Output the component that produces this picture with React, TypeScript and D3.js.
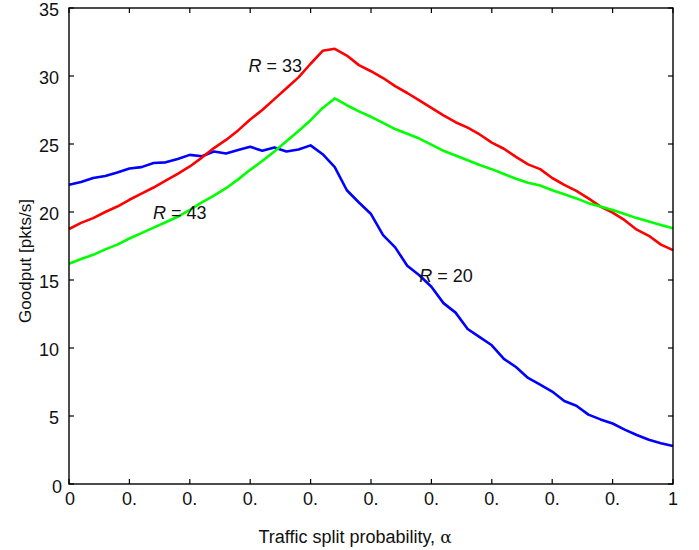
import React, { useRef, useEffect } from 'react';
import * as d3 from 'd3';

// traffic split probability (x grid, step 0.02)
const alpha = [
  0, 0.02, 0.04, 0.06, 0.08, 0.1, 0.12, 0.14, 0.16, 0.18, 0.2, 0.22, 0.24, 0.26, 0.28, 0.3, 0.32,
  0.34, 0.36, 0.38, 0.4, 0.42, 0.44, 0.46, 0.48, 0.5, 0.52, 0.54, 0.56, 0.58, 0.6, 0.62, 0.64, 0.66,
  0.68, 0.7, 0.72, 0.74, 0.76, 0.78, 0.8, 0.82, 0.84, 0.86, 0.88, 0.9, 0.92, 0.94, 0.96, 0.98, 1,
];

// goodput [pkts/s]
const r20 = [
  22.0, 22.2, 22.5, 22.65, 22.9, 23.2, 23.3, 23.6, 23.65, 23.9, 24.2, 24.1, 24.45, 24.3, 24.55, 24.8,
  24.5, 24.75, 24.45, 24.6, 24.9, 24.25, 23.3, 21.6, 20.7, 19.85, 18.3, 17.4, 16.05, 15.35, 14.5, 13.3,
  12.6, 11.4, 10.8, 10.2, 9.2, 8.6, 7.8, 7.3, 6.8, 6.1, 5.75, 5.1, 4.75, 4.45, 4.0, 3.6, 3.25, 3.0, 2.8,
];
const r33 = [
  18.75, 19.2, 19.55, 20.0, 20.4, 20.9, 21.35, 21.8, 22.3, 22.8, 23.35, 24.0, 24.7, 25.3, 26.0, 26.8,
  27.5, 28.3, 29.1, 29.9, 30.9, 31.85, 32.0, 31.5, 30.8, 30.35, 29.85, 29.25, 28.75, 28.2, 27.65, 27.1,
  26.6, 26.2, 25.7, 25.1, 24.65, 24.05, 23.5, 23.15, 22.5, 22.0, 21.55, 21.0, 20.4, 19.95, 19.4, 18.7,
  18.25, 17.6, 17.2,
];
const r43 = [
  16.2, 16.55, 16.85, 17.25, 17.6, 18.05, 18.45, 18.85, 19.25, 19.65, 20.15, 20.7, 21.2, 21.75, 22.4,
  23.1, 23.75, 24.45, 25.2, 25.95, 26.75, 27.65, 28.35, 27.85, 27.4, 27.0, 26.55, 26.1, 25.75, 25.4,
  24.95, 24.5, 24.15, 23.8, 23.45, 23.15, 22.8, 22.45, 22.15, 21.95, 21.6, 21.3, 21.0, 20.65, 20.4,
  20.15, 19.85, 19.55, 19.3, 19.05, 18.8,
];

const xTicks = [0, 0.1, 0.2, 0.3, 0.4, 0.5, 0.6, 0.7, 0.8, 0.9, 1];
const xTickLabels = ['0', '0.', '0.', '0.', '0.', '0.', '0.', '0.', '0.', '0.', '1'];
const yTicks = [0, 5, 10, 15, 20, 25, 30, 35];

const series = [
  { name: 'R = 20', values: r20, color: '#0000ff', label: { a: 0.58, v: 14.85 } },
  { name: 'R = 33', values: r33, color: '#ff0000', label: { a: 0.297, v: 30.3 } },
  { name: 'R = 43', values: r43, color: '#00ff00', label: { a: 0.139, v: 19.5 } },
];

const W = 699;
const H = 550;
const FONT = '"Liberation Sans", Arial, Helvetica, sans-serif';

export default function App() {
  const svgRef = useRef<SVGSVGElement>(null);

  useEffect(() => {
    const svg = d3.select(svgRef.current);
    svg.selectAll('*').remove();

    const left = 69, right = 673, top = 8, bottom = 484;
    const x = d3.scaleLinear().domain([0, 1]).range([left, right]);
    const y = d3.scaleLinear().domain([0, 35]).range([bottom, top]);

    svg.append('rect').attr('width', W).attr('height', H).attr('fill', '#fff');

    const g = svg.append('g').style('font-family', FONT);

    // curves
    const line = d3
      .line<number>()
      .x((d, i) => x(alpha[i]))
      .y((d) => y(d));

    series.forEach((s) => {
      g.append('path')
        .datum(s.values)
        .attr('fill', 'none')
        .attr('stroke', s.color)
        .attr('stroke-width', 2.6)
        .attr('stroke-linejoin', 'round')
        .attr('d', line);
    });

    // frame
    g.append('rect')
      .attr('x', left)
      .attr('y', top)
      .attr('width', right - left)
      .attr('height', bottom - top)
      .attr('fill', 'none')
      .attr('stroke', '#000')
      .attr('stroke-width', 1.4);

    // inner ticks on all four sides
    const tk = 5;
    xTicks.forEach((t, i) => {
      g.append('line').attr('x1', x(t)).attr('x2', x(t)).attr('y1', bottom).attr('y2', bottom - tk)
        .attr('stroke', '#000').attr('stroke-width', 1.2);
      g.append('line').attr('x1', x(t)).attr('x2', x(t)).attr('y1', top).attr('y2', top + tk)
        .attr('stroke', '#000').attr('stroke-width', 1.2);
      g.append('text')
        .attr('x', x(t) + (i === 0 ? 1 : 0))
        .attr('y', bottom + 21)
        .attr('text-anchor', 'middle')
        .attr('font-size', 18)
        .attr('fill', '#111')
        .text(xTickLabels[i]);
    });
    yTicks.forEach((t) => {
      g.append('line').attr('x1', left).attr('x2', left + tk).attr('y1', y(t)).attr('y2', y(t))
        .attr('stroke', '#000').attr('stroke-width', 1.2);
      g.append('line').attr('x1', right).attr('x2', right - tk).attr('y1', y(t)).attr('y2', y(t))
        .attr('stroke', '#000').attr('stroke-width', 1.2);
      g.append('text')
        .attr('x', t === 0 ? left - 7 : left - 10)
        .attr('y', y(t) + (t === 0 ? 9 : 8))
        .attr('text-anchor', 'end')
        .attr('font-size', 18)
        .attr('fill', '#111')
        .text(t);
    });

    // curve labels
    series.forEach((s) => {
      const tx = g.append('text')
        .attr('x', x(s.label.a))
        .attr('y', y(s.label.v))
        .attr('font-size', 18)
        .attr('fill', '#111');
      tx.append('tspan').attr('font-style', 'italic').text('R');
      tx.append('tspan').text(s.name.slice(1));
    });

    // axis titles
    const xt = g.append('text')
      .attr('x', (left + right) / 2 - 16)
      .attr('y', 543)
      .attr('text-anchor', 'middle')
      .attr('font-size', 18)
      .attr('fill', '#111');
    xt.append('tspan').text('Traffic split probability, ');
    xt.append('tspan').attr('font-family', '"DejaVu Serif", "Liberation Serif", serif').attr('font-size', 17).text('α');

    g.append('text')
      .attr('transform', 'translate(31,' + 261 + ') rotate(-90)')
      .attr('text-anchor', 'middle')
      .attr('font-size', 17)
      .attr('fill', '#111')
      .text('Goodput [pkts/s]');
  }, []);

  return (
    <svg
      ref={svgRef}
      width={W}
      height={H}
      style={{ position: 'absolute', left: 0, top: 0 }}
    />
  );
}
